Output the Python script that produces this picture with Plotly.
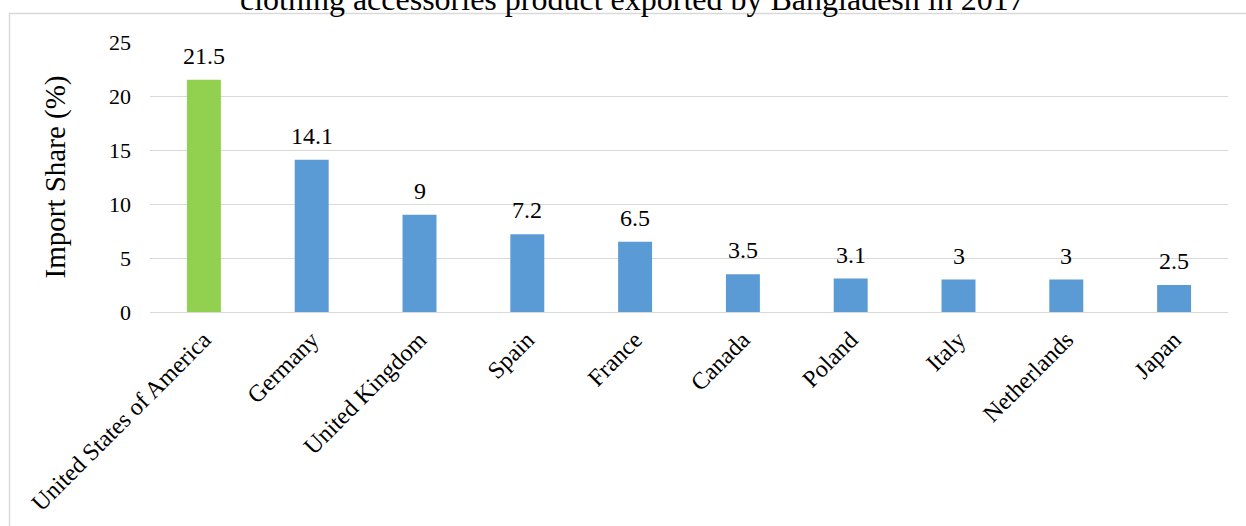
import plotly.graph_objects as go

countries = ["United States of America", "Germany", "United Kingdom", "Spain", "France",
             "Canada", "Poland", "Italy", "Netherlands", "Japan"]
shares = [21.5, 14.1, 9, 7.2, 6.5, 3.5, 3.1, 3, 3, 2.5]
label_texts = ["21.5", "14.1", "9", "7.2", "6.5", "3.5", "3.1", "3", "3", "2.5"]
bar_colors = ["#92D050"] + ["#5B9BD5"] * 9
title_text = "clothing accessories product exported by Bangladesh in 2017"
y_title = "Import Share (%)"

FONT = "Times New Roman, Liberation Serif, serif"
W, H = 1246, 526
L, R, T, B = 150, 18, 42, 214
pw, ph = W - L - R, H - T - B

def px_to_paper_x(px):
    return (px - L) / pw

def px_to_paper_y(py):
    return 1 - (py - T) / ph

fig = go.Figure()
fig.add_trace(go.Bar(
    x=countries, y=shares, marker=dict(color=bar_colors, line=dict(width=0)),
    width=0.315, hoverinfo="x+y", showlegend=False,
))

annotations = []
for c, v, t in zip(countries, shares, label_texts):
    annotations.append(dict(
        x=c, y=v, xref="x", yref="y", text=t, showarrow=False,
        yanchor="bottom", yshift=9, font=dict(family=FONT, size=24, color="#000000"),
    ))

annotations.append(dict(
    x=px_to_paper_x(632), y=px_to_paper_y(19), xref="paper", yref="paper",
    text=title_text, showarrow=False, xanchor="center", yanchor="bottom",
    font=dict(family=FONT, size=32, color="#000000"),
))

fig.update_layout(
    width=W, height=H,
    margin=dict(l=L, r=R, t=T, b=B, autoexpand=False),
    paper_bgcolor="white", plot_bgcolor="white",
    font=dict(family=FONT, color="#000000"),
    annotations=annotations,
    bargap=0.685,
    shapes=[dict(
        type="rect", xref="paper", yref="paper", layer="below",
        x0=px_to_paper_x(9.5), x1=px_to_paper_x(1300),
        y0=px_to_paper_y(13.5), y1=px_to_paper_y(600),
        line=dict(color="#d9d9d9", width=1.5), fillcolor="rgba(0,0,0,0)",
    )],
)

fig.update_xaxes(
    tickangle=-45, tickfont=dict(family=FONT, size=24, color="#000000"),
    showgrid=False, showline=False, ticks="", ticklabelstandoff=8,
)
fig.update_yaxes(
    range=[0, 25], tickvals=[0, 5, 10, 15, 20, 25],
    tickfont=dict(family=FONT, size=22, color="#000000"),
    showgrid=True, gridcolor="#d9d9d9", gridwidth=1.3,
    zeroline=True, zerolinecolor="#d9d9d9", zerolinewidth=1.3,
    showline=False, ticks="", ticklabelstandoff=18,
    title=dict(text=y_title, font=dict(family=FONT, size=29, color="#000000"), standoff=34),
)

fig.write_html("out.html", config={"displayModeBar": False},
               post_script="document.body.style.margin='0';")
